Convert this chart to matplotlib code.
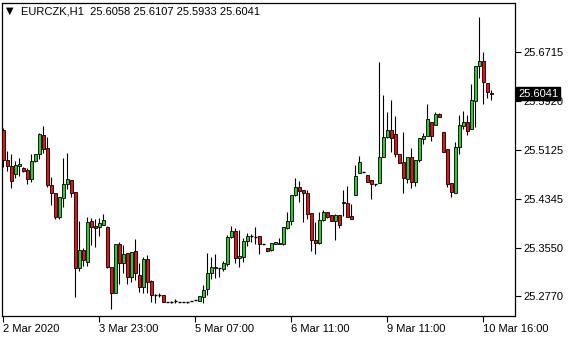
import matplotlib
matplotlib.use('Agg')
import matplotlib.pyplot as plt

# EURCZK H1 candles (one entry per hourly bar)
opens = [25.5454, 25.4969, 25.4872, 25.4743, 25.4872, 25.4840, 25.4807, 25.4662, 25.4953, 25.5066,
         25.5373, 25.5163, 25.4565, 25.4436, 25.4048, 25.4355, 25.4581, 25.4646, 25.4452, 25.3223,
         25.3514, 25.3320, 25.3983, 25.3902, 25.3886, 25.3918, 25.3886, 25.3239, 25.2819, 25.3611,
         25.3304, 25.3466, 25.3078, 25.3498, 25.3110, 25.2916, 25.3369, 25.3013, 25.2786, 25.2786,
         25.2786, 25.2673, 25.2673, 25.2689, 25.2673, 25.2673, 25.2673, 25.2689, 25.2706, 25.2689,
         25.2754, 25.2883, 25.3142, 25.3223, 25.3223, 25.3207, 25.3288, 25.3724, 25.3821, 25.3385,
         25.3401, 25.3660, 25.3740, 25.3724, 25.3740, 25.3611, 25.3546, 25.3514, 25.3611, 25.3611,
         25.3611, 25.3870, 25.3983, 25.4403, 25.4533, 25.4484, 25.4436, 25.4112, 25.3676, 25.3627,
         25.3999, 25.4128, 25.4080, 25.3983, 25.4080, 25.4290, 25.4274, 25.4064, 25.4403, 25.4759,
         25.4775, 25.4727, 25.4646, 25.4581, 25.4597, 25.5018, 25.5341, 25.5454, 25.5390, 25.5066,
         25.4937, 25.4662, 25.5018, 25.4613, 25.4969, 25.5309, 25.5357, 25.5584, 25.5535, 25.5713,
         25.5422, 25.5147, 25.4597, 25.4436, 25.5179, 25.5519, 25.5584, 25.5470, 25.5923, 25.6489,
         25.6570, 25.6214, 25.6058]
highs = [25.5487, 25.5115, 25.5066, 25.4953, 25.5001, 25.4856, 25.4840, 25.5066, 25.5066, 25.5406,
         25.5519, 25.5341, 25.4694, 25.4436, 25.4371, 25.5001, 25.5082, 25.4646, 25.4452, 25.3983,
         25.3546, 25.4048, 25.4031, 25.4015, 25.4031, 25.4096, 25.3902, 25.3239, 25.3611, 25.3643,
         25.3595, 25.3466, 25.3482, 25.3692, 25.3304, 25.3401, 25.3433, 25.3029, 25.2803, 25.2819,
         25.2786, 25.2673, 25.2689, 25.2722, 25.2673, 25.2673, 25.2673, 25.2689, 25.2706, 25.2770,
         25.2948, 25.3466, 25.3401, 25.3449, 25.3223, 25.3336, 25.3757, 25.3902, 25.3870, 25.3837,
         25.3708, 25.3789, 25.3773, 25.3886, 25.3740, 25.3611, 25.3546, 25.3627, 25.3643, 25.3708,
         25.3886, 25.4128, 25.4403, 25.4678, 25.4630, 25.4484, 25.4484, 25.4112, 25.3967, 25.4128,
         25.4161, 25.4128, 25.4080, 25.4096, 25.4080, 25.4484, 25.4549, 25.4258, 25.4888, 25.5034,
         25.4775, 25.4727, 25.4646, 25.4581, 25.6554, 25.6020, 25.5745, 25.5939, 25.5681, 25.5066,
         25.5422, 25.5018, 25.5163, 25.4969, 25.5325, 25.5406, 25.5875, 25.5584, 25.5745, 25.5729,
         25.5422, 25.5147, 25.4597, 25.5260, 25.5697, 25.5761, 25.5697, 25.6198, 25.6489, 25.7281,
         25.6715, 25.6214, 25.6107]
lows = [25.4856, 25.4791, 25.4516, 25.4678, 25.4710, 25.4775, 25.4581, 25.4613, 25.4937, 25.4985,
        25.5082, 25.4533, 25.4242, 25.4015, 25.4015, 25.4209, 25.4500, 25.4371, 25.2754, 25.3175,
        25.3255, 25.3255, 25.3595, 25.3563, 25.3740, 25.3918, 25.3223, 25.2560, 25.2819, 25.2964,
        25.3142, 25.2964, 25.2997, 25.3029, 25.2835, 25.2819, 25.2819, 25.2673, 25.2657, 25.2754,
        25.2673, 25.2673, 25.2657, 25.2657, 25.2673, 25.2673, 25.2657, 25.2689, 25.2706, 25.2689,
        25.2657, 25.2786, 25.3045, 25.3061, 25.3078, 25.3175, 25.3255, 25.3708, 25.3304, 25.3239,
        25.3320, 25.3579, 25.3643, 25.3611, 25.3449, 25.3611, 25.3498, 25.3498, 25.3611, 25.3611,
        25.3595, 25.3854, 25.3918, 25.4387, 25.4290, 25.3967, 25.4015, 25.3498, 25.3449, 25.3611,
        25.3983, 25.4031, 25.3983, 25.3676, 25.3870, 25.4064, 25.4048, 25.4015, 25.4403, 25.4759,
        25.4775, 25.4613, 25.4339, 25.4549, 25.4597, 25.5018, 25.5325, 25.5099, 25.5018, 25.4921,
        25.4436, 25.4597, 25.4516, 25.4549, 25.4937, 25.5228, 25.5357, 25.5276, 25.5535, 25.5664,
        25.5099, 25.4533, 25.4371, 25.4436, 25.5066, 25.5470, 25.5373, 25.5470, 25.5503, 25.6295,
        25.5875, 25.5972, 25.5933]
closes = [25.4969, 25.4872, 25.4630, 25.4888, 25.4904, 25.4791, 25.4662, 25.4953, 25.5066, 25.5390,
          25.5147, 25.4565, 25.4436, 25.4048, 25.4371, 25.4581, 25.4662, 25.4436, 25.3223, 25.3514,
          25.3352, 25.3967, 25.3886, 25.3870, 25.3951, 25.3999, 25.3239, 25.2819, 25.3611, 25.3304,
          25.3449, 25.3078, 25.3482, 25.3142, 25.2916, 25.3369, 25.2997, 25.2786, 25.2786, 25.2786,
          25.2673, 25.2673, 25.2673, 25.2689, 25.2673, 25.2673, 25.2673, 25.2689, 25.2706, 25.2770,
          25.2867, 25.3142, 25.3239, 25.3239, 25.3223, 25.3304, 25.3724, 25.3821, 25.3385, 25.3417,
          25.3660, 25.3740, 25.3740, 25.3724, 25.3611, 25.3611, 25.3498, 25.3627, 25.3643, 25.3627,
          25.3886, 25.3983, 25.4403, 25.4533, 25.4468, 25.4436, 25.4096, 25.3676, 25.3627, 25.3999,
          25.4128, 25.4048, 25.3983, 25.4080, 25.3918, 25.4274, 25.4048, 25.4015, 25.4710, 25.4937,
          25.4775, 25.4613, 25.4581, 25.4581, 25.5018, 25.5341, 25.5454, 25.5325, 25.5066, 25.4921,
          25.4678, 25.5018, 25.4613, 25.4969, 25.5325, 25.5357, 25.5632, 25.5357, 25.5713, 25.5664,
          25.5099, 25.4581, 25.4452, 25.5179, 25.5535, 25.5584, 25.5438, 25.5939, 25.6489, 25.6570,
          25.6230, 25.6069, 25.6041]

price_ticks = [25.6715, 25.5920, 25.5125, 25.4345, 25.3550, 25.2770]
time_tick_bars = [0, 24, 48, 72, 96, 120]
time_tick_labels = ['2 Mar 2020', '3 Mar 23:00', '5 Mar 07:00', '6 Mar 11:00', '9 Mar 11:00', '10 Mar 16:00']

plt.rcParams['font.family'] = ['Liberation Sans', 'DejaVu Sans']

fig = plt.figure(figsize=(5.8, 3.4), dpi=100)
ax = fig.add_axes([2 / 580, 24 / 340, 513 / 580, 313 / 340])

bull = '#32c832'
bear = '#e81010'
n = len(opens)
xs = list(range(n))

ax.vlines(xs, lows, highs, color='black', linewidth=0.8, zorder=2)
for i in xs:
    o, c = opens[i], closes[i]
    if c > o:
        ax.bar(i, c - o, bottom=o, width=0.72, color=bull, edgecolor='black', linewidth=0.6, zorder=3)
    elif c < o:
        ax.bar(i, o - c, bottom=c, width=0.72, color=bear, edgecolor='black', linewidth=0.6, zorder=3)
    else:
        ax.hlines(o, i - 0.4, i + 0.4, color='black', linewidth=1.0, zorder=3)

ax.set_xlim(-0.3, 127.95)
ax.set_ylim(25.2447, 25.7507)

ax.yaxis.tick_right()
ax.set_yticks(price_ticks)
ax.set_yticklabels(['%.4f' % v for v in price_ticks])
ax.set_xticks(time_tick_bars)
ax.set_xticklabels(time_tick_labels, ha='left')
ax.tick_params(axis='both', direction='out', length=4, width=0.8, labelsize=8, colors='black')
ax.tick_params(axis='y', pad=2)
ax.tick_params(axis='x', pad=2)

for s in ax.spines.values():
    s.set_color('black')
    s.set_linewidth(0.9)

# current price box on the price scale
ax.text(1.006, closes[-1], '%.4f' % closes[-1], transform=ax.get_yaxis_transform(),
        ha='left', va='center', color='white', fontsize=8, zorder=5, clip_on=False,
        bbox=dict(facecolor='black', edgecolor='black', boxstyle='square,pad=0.15'))

fig.text(6 / 580, 1 - 11 / 340, '\u25bc', family='DejaVu Sans', fontsize=7, va='center', ha='left')
fig.text(21 / 580, 1 - 11 / 340, 'EURCZK,H1  %.4f %.4f %.4f %.4f' % (opens[-1], highs[-1], lows[-1], closes[-1]),
         fontsize=8, va='center', ha='left')

fig.savefig('out.png', dpi=100, facecolor='white')
